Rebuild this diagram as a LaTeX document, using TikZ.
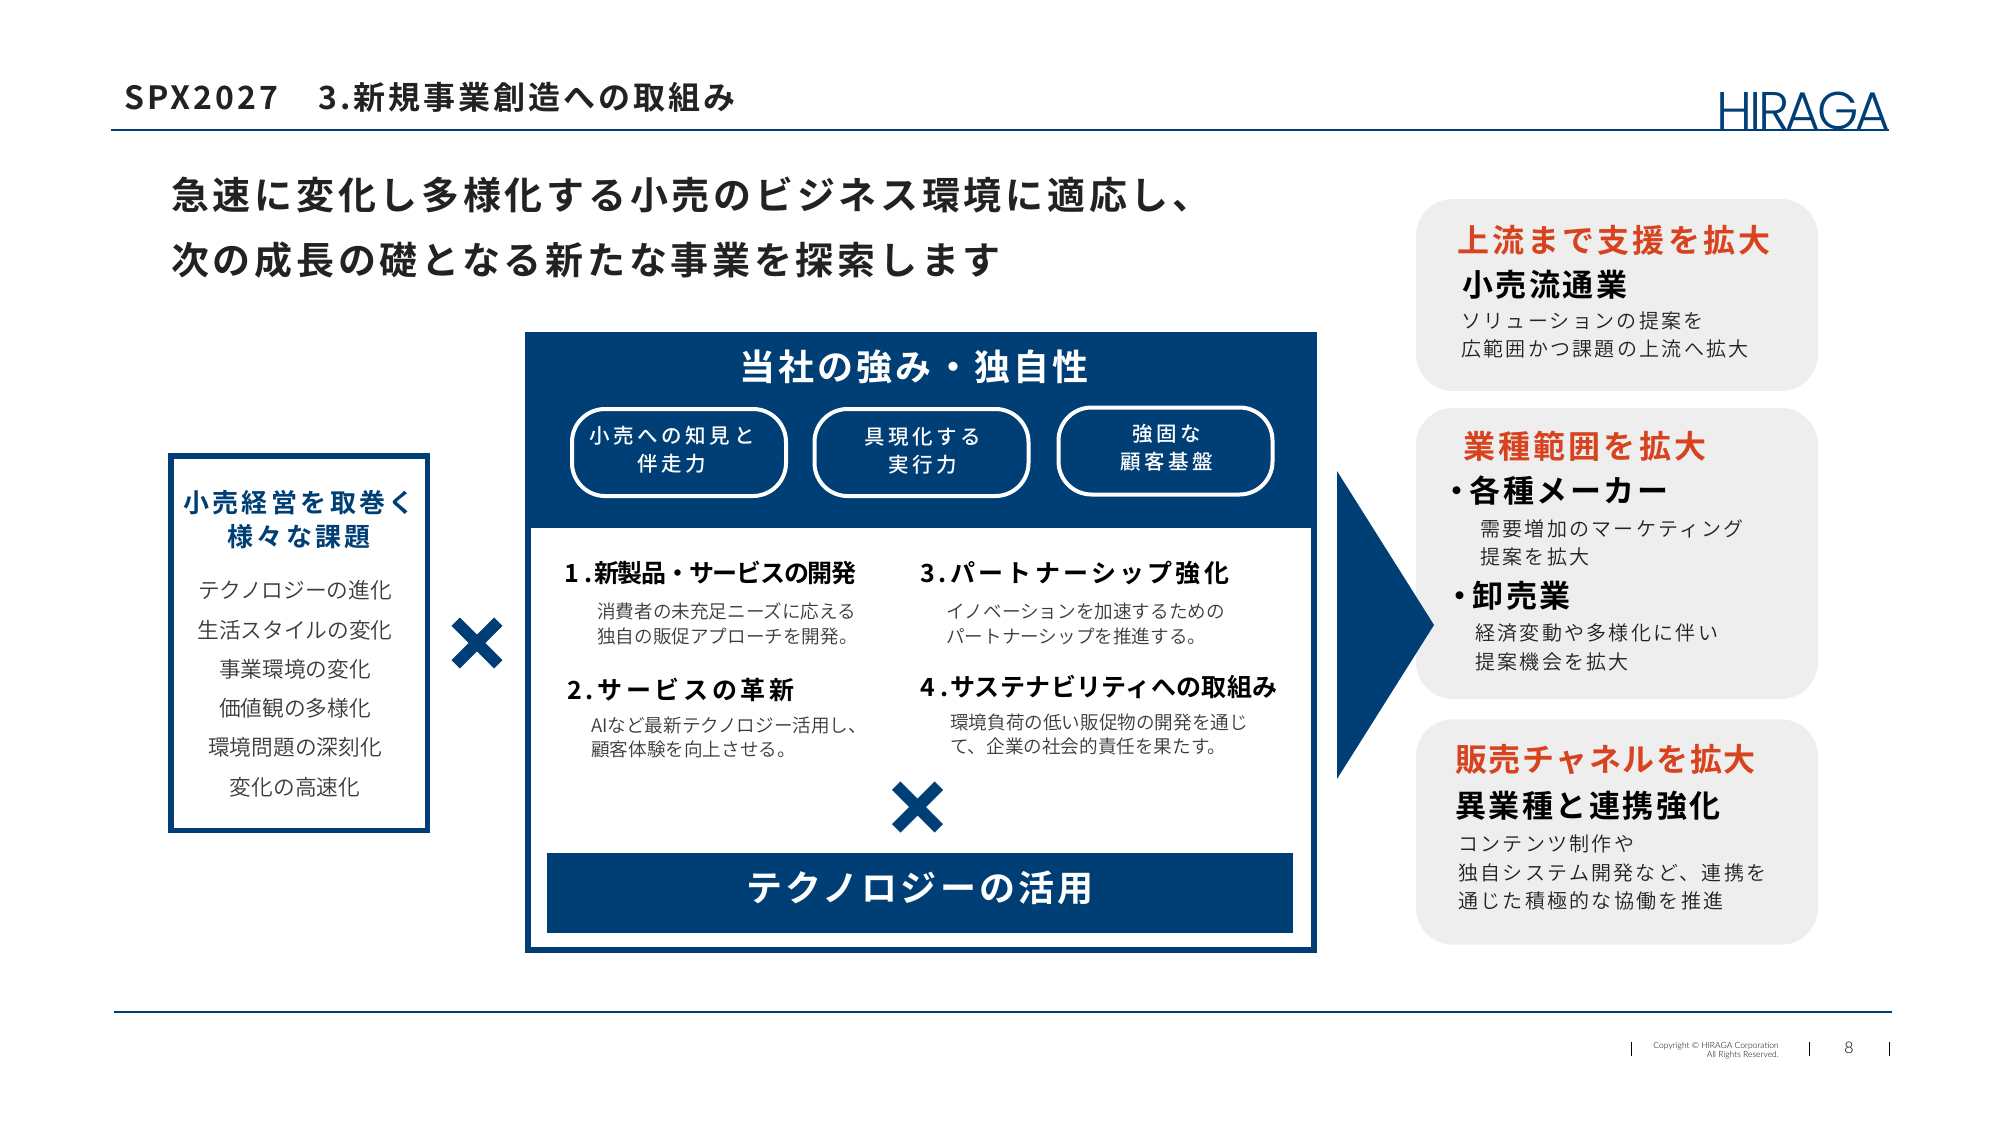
\documentclass[tikz,border=0pt]{standalone}
\usepackage{fontspec}
\setmainfont{Noto Sans CJK JP DemiLight}[BoldFont={Noto Sans CJK JP Bold}]
\newfontfamily\jpmed{Noto Sans CJK JP Medium}
\newfontfamily\logofont{Poppins Light}
\newfontfamily\footfont{Lato Light}
\definecolor{navy}{HTML}{003F76}
\definecolor{rust}{HTML}{D8431F}
\definecolor{pale}{HTML}{EEEEEE}
\definecolor{ink}{HTML}{222222}
\definecolor{soft}{HTML}{3A3A3A}
\newcommand{\jpf}[3]{\fontsize{#1}{#2}\selectfont\addfontfeature{LetterSpace=#3}}
\tikzset{
  txt/.style={inner sep=0pt,anchor=west,align=left},
  mid/.style={inner sep=0pt,anchor=center,align=center},
  rule/.style={draw=navy,line width=1.5pt},
  tick/.style={draw=black,line width=1.3pt},
  crossbar/.style={draw=navy,line width=12pt},
  pill/.style={draw=white,line width=4pt,rounded corners=33pt,inner sep=0pt,minimum width=214pt,minimum height=87pt},
  card/.style={fill=pale,rounded corners=37pt,inner sep=0pt,minimum width=402pt},
  head/.style={txt,text=rust,font=\bfseries\jpf{32}{38}{#1}},
  sub/.style={txt,text=black,font=\bfseries\jpf{31}{38}{8}},
  body/.style={txt,text=ink,font=\jpf{20}{28.5}{11.5}},
  item/.style={txt,text=black,font=\bfseries\jpf{25}{30}{#1}},
  note/.style={txt,text=soft,font=\jpf{18.6}{24.5}{0}},
  issue/.style={mid,text=soft,font=\jpf{21.7}{26}{0}},
  pilltxt/.style={mid,text=white,font=\jpmed\jpf{20.5}{28}{17.5}},
}
\begin{document}
\begin{tikzpicture}[x=1pt,y=-1pt]
  \useasboundingbox (0,0) rectangle (2000,1121);

  \node[txt,text=ink,font=\bfseries\jpf{32}{38}{9.4}] (title) at (124,97) {SPX2027　\kern5pt 3.新規事業創造への取組み};
  \node[txt,text=navy,font=\logofont\fontsize{53}{53}\selectfont\addfontfeature{LetterSpace=-6}] (logo) at (1716,111) {HIRAGA};
  \coordinate (topa) at (111,130);
  \coordinate (topb) at (1889,130);
  \draw[rule] (topa) -- (topb);

  \node[txt,text=ink,font=\bfseries\jpf{38}{65}{9.8}] (lead) at (171,228) {急速に変化し多様化する小売のビジネス環境に適応し、\\次の成長の礎となる新たな事業を探索します};

  \node (issues) at (299,643) [draw=navy,line width=5.5pt,inner sep=0pt,minimum width=256.5pt,minimum height=374.5pt] {};
  \node[mid,text=navy,font=\bfseries\jpf{26}{34}{13}] (issuehead) at (299,520) {小売経営を取巻く\\様々な課題};
  \node[issue] (iss1) at (295,590) {テクノロジーの進化};
  \node[issue] (iss2) at (295,630) {生活スタイルの変化};
  \node[issue] (iss3) at (295,669) {事業環境の変化};
  \node[issue] (iss4) at (295,708) {価値観の多様化};
  \node[issue] (iss5) at (295,747) {環境問題の深刻化};
  \node[issue] (iss6) at (295,787) {変化の高速化};

  \coordinate (xa) at (477,643);
  \draw[crossbar] ([shift={(-21.3,-21.3)}]xa) -- ([shift={(21.3,21.3)}]xa);
  \draw[crossbar] ([shift={(-21.3,21.3)}]xa) -- ([shift={(21.3,-21.3)}]xa);

  \node (core) at (921,642.5) [fill=navy,inner sep=0pt,minimum width=792pt,minimum height=621pt] {};
  \node (inner) at (921,737.5) [fill=white,inner sep=0pt,minimum width=780pt,minimum height=419pt] {};
  \node[mid,text=white,font=\bfseries\jpf{36}{40}{9}] (corehead) at (914,367) {当社の強み・独自性};

  \node[pill] (pilla) at (679,452.5) {};
  \node[pill] (pillb) at (921.5,452.5) {};
  \node[pill] (pillc) at (1165.5,451) {};
  \node[pilltxt] (pillatxt) at (672,450) {小売への知見と\\伴走力};
  \node[pilltxt] (pillbtxt) at (923,451) {具現化する\\実行力};
  \node[pilltxt] (pillctxt) at (1167,447.5) {強固な\\顧客基盤};

  \node[item=-5] (it1) at (564,573) {1\kern6pt.\kern1pt 新製品・サービスの開発};
  \node[note] (nt1) at (597,624) {消費者の未充足ニーズに応える\\独自の販促アプローチを開発。};
  \node[item=14.5] (it2) at (567,690) {2\kern4pt.サービスの革新};
  \node[note] (nt2) at (591,737.5) {AIなど最新テクノロジー活用し、\\顧客体験を向上させる。};
  \node[item=13] (it3) at (920,573) {3\kern4pt.パートナーシップ強化};
  \node[note] (nt3) at (946,624) {イノベーションを加速するための\\パートナーシップを推進する。};
  \node[item=1.5] (it4) at (920,687) {4\kern6pt.\kern1pt サステナビリティへの取組み};
  \node[note] (nt4) at (950,734.5) {環境負荷の低い販促物の開発を通じ\\て、企業の社会的責任を果たす。};

  \coordinate (xb) at (917.5,807);
  \draw[crossbar] ([shift={(-21.3,-21.3)}]xb) -- ([shift={(21.3,21.3)}]xb);
  \draw[crossbar] ([shift={(-21.3,21.3)}]xb) -- ([shift={(21.3,-21.3)}]xb);

  \node (techbar) at (920,893) [fill=navy,inner sep=0pt,minimum width=746pt,minimum height=80pt] {};
  \node[mid,text=white,font=\bfseries\jpf{36}{40}{9}] (techtxt) at (920,888) {テクノロジーの活用};

  \node[card,minimum height=192pt] (carda) at (1617,295) {};
  \node[head=9.8] (heada) at (1457,240) {上流まで支援を拡大};
  \node[sub] (suba) at (1462,285) {小売流通業};
  \node[body] (bodya) at (1461,335) {ソリューションの提案を\\広範囲かつ課題の上流へ拡大};

  \node[card,minimum height=291pt] (cardb) at (1617,553.5) {};
  \node[head=10] (headb) at (1463,446) {業種範囲を拡大};
  \node[sub] (subb) at (1441,491) {・\kern-2.5pt 各種メーカー};
  \node[body] (bodyb) at (1480,543) {需要増加のマーケティング\\提案を拡大};
  \node[sub] (subc) at (1444,596) {・\kern-2.5pt 卸売業};
  \node[body] (bodyc) at (1475,647.5) {経済変動や多様化に伴い\\提案機会を拡大};

  \node[card,minimum height=225.4pt] (cardc) at (1617,832) {};
  \node[head=5] (headc) at (1455,760) {販売チャネルを拡大};
  \node[sub] (subd) at (1455,806) {異業種と連携強化};
  \node[body] (bodyd) at (1458,872.5) {コンテンツ制作や\\独自システム開発など、連携を\\通じた積極的な協働を推進};

  \fill[navy] (1337,471) -- (1434,625) -- (1337,779) -- cycle;

  \coordinate (bota) at (114,1011.5);
  \coordinate (botb) at (1892,1011.5);
  \draw[rule,line width=2pt] (bota) -- (botb);
  \coordinate (ta) at (1631.5,1042);
  \coordinate (tb) at (1631.5,1056);
  \coordinate (tc) at (1809.5,1042);
  \coordinate (td) at (1809.5,1056);
  \coordinate (te) at (1889.5,1042);
  \coordinate (tf) at (1889.5,1056);
  \draw[tick] (ta) -- (tb);
  \draw[tick] (tc) -- (td);
  \draw[tick] (te) -- (tf);
  \node[inner sep=0pt,anchor=east,align=right,text=black,font=\footfont\fontsize{8.5}{8.5}\selectfont] (copy) at (1779,1050.5) {Copyright © HIRAGA Corporation\\All Rights Reserved.};
  \node[inner sep=0pt,text=black,font=\footfont\fontsize{16}{16}\selectfont] (pageno) at (1849,1048) {8};
\end{tikzpicture}
\end{document}
